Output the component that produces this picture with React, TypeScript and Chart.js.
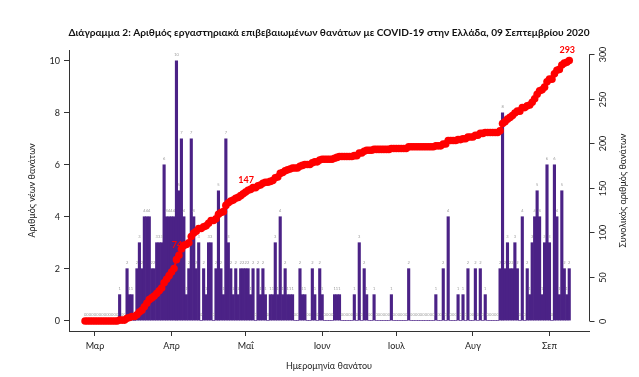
import React, { useEffect, useRef } from 'react';
import { Chart, registerables } from 'chart.js';

Chart.register(...registerables);

const chartTitle =
  'Διάγραμμα 2: Αριθμός εργαστηριακά επιβεβαιωμένων θανάτων με COVID-19 στην Ελλάδα, 09 Σεπτεμβρίου 2020';
const xAxisTitle = 'Ημερομηνία θανάτου';
const leftAxisTitle = 'Αριθμός νέων θανάτων';
const rightAxisTitle = 'Συνολικός αριθμός θανάτων';

// first entry is 26 Feb 2020; day numbers are counted from 1 Mar 2020
const firstDayOffset = -4;

// daily new deaths, 26 Feb .. 9 Sep 2020
const newDeaths = [
  0, 0, 0, 0,
  0, 0, 0, 0, 0, 0, 0, 0, 0, 0,
  1, 0, 0, 2, 1, 1, 0, 2, 3, 2, 4, 4, 4, 2, 2, 3, 3, 3, 6, 4, 4,
  4, 4, 10, 5, 7, 4, 1, 2, 7, 4, 2, 3, 0, 2, 1, 3, 3, 0, 2, 5, 2, 1, 7, 3, 2, 1, 2, 1, 2, 2,
  2, 2, 1, 2, 0, 2, 1, 2, 1, 0, 1, 1, 3, 1, 4, 1, 2, 1, 1, 1, 0, 0, 2, 1, 1, 0, 0, 2, 1, 0, 2,
  1, 0, 0, 0, 0, 1, 1, 1, 0, 0, 0, 0, 0, 1, 0, 3, 0, 2, 1, 0, 0, 1, 0, 0, 0, 0, 0, 0, 1, 0,
  0, 0, 0, 0, 0, 2, 0, 0, 0, 0, 0, 0, 0, 0, 0, 0, 1, 0, 0, 2, 0, 4, 0, 0, 0, 1, 0, 1, 0, 2, 0,
  0, 2, 0, 2, 0, 1, 0, 0, 0, 0, 0, 2, 8, 2, 3, 2, 2, 3, 2, 0, 4, 0, 2, 1, 3, 4, 5, 4, 1, 3, 6,
  3, 0, 6, 4, 1, 5, 2, 1, 2,
];

// cumulative deaths, 26 Feb .. 9 Sep 2020
const totalDeaths = [
  0, 0, 0, 0,
  0, 0, 0, 0, 0, 0, 0, 0, 0, 0,
  1, 1, 1, 3, 4, 5, 5, 7, 10, 12, 16, 20, 24, 26, 28, 31, 34, 37, 43, 47, 51,
  55, 59, 69, 74, 81, 85, 86, 88, 95, 99, 101, 104, 104, 106, 107, 110, 113, 113, 115, 120, 122, 123, 130, 133, 135, 136, 138, 139, 141, 143,
  145, 147, 148, 150, 150, 152, 153, 155, 156, 156, 157, 158, 161, 162, 166, 167, 169, 170, 171, 172, 172, 172, 174, 175, 176, 176, 176, 178, 179, 179, 181,
  182, 182, 182, 182, 182, 183, 184, 185, 185, 185, 185, 185, 185, 186, 186, 189, 189, 191, 192, 192, 192, 193, 193, 193, 193, 193, 193, 193, 194, 194,
  194, 194, 194, 194, 194, 196, 196, 196, 196, 196, 196, 196, 196, 196, 196, 196, 197, 197, 197, 199, 199, 203, 203, 203, 203, 204, 204, 205, 205, 207, 207,
  207, 209, 209, 211, 211, 212, 212, 212, 212, 212, 212, 214, 222, 224, 227, 229, 231, 234, 236, 236, 240, 240, 242, 243, 246, 250, 255, 259, 260, 263, 269,
  272, 272, 278, 282, 283, 288, 290, 291, 293,
];

const monthTickDays = [0, 31, 61, 92, 122, 153, 184];
const monthLabels = ['Μαρ', 'Απρ', 'Μαΐ', 'Ιουν', 'Ιουλ', 'Αυγ', 'Σεπ'];
const leftTicks = [0, 2, 4, 6, 8, 10];
const rightTicks = [0, 50, 100, 150, 200, 250, 300];
const markedDays = [34, 62, 192];
const markedTexts = ['74', '147', '293'];

const PURPLE = '#4b2286';
const RED = '#ff0000';
const AXIS = '#333333';
const TEXT = '#222222';
const FONT = 'Lato';

const decorPlugin = {
  id: 'decor',
  afterDatasetDraw(chart: any, args: any) {
    if (args.index !== 1) return;
    const ctx = chart.ctx as CanvasRenderingContext2D;
    const barMeta = chart.getDatasetMeta(1);
    const lineMeta = chart.getDatasetMeta(0);
    ctx.save();
    ctx.font = `4px ${FONT}`;
    ctx.fillStyle = '#9a9a9a';
    ctx.textAlign = 'center';
    ctx.textBaseline = 'middle';
    barMeta.data.forEach((el: any, i: number) => {
      ctx.fillText(String(newDeaths[i]), el.x, el.y - 6);
    });
    ctx.font = `bold 9px ${FONT}`;
    ctx.fillStyle = RED;
    markedDays.forEach((d, k) => {
      const p = lineMeta.data[d - firstDayOffset];
      if (p) ctx.fillText(markedTexts[k], p.x - 2, p.y - 10);
    });
    ctx.restore();
  },
  afterDraw(chart: any) {
    const ctx = chart.ctx as CanvasRenderingContext2D;
    const area = chart.chartArea;
    const cx = (area.left + area.right) / 2;
    const cy = (area.top + area.bottom) / 2;
    ctx.save();
    ctx.fillStyle = '#111';
    ctx.textAlign = 'center';
    ctx.textBaseline = 'middle';
    let size = 12;
    ctx.font = `bold ${size}px ${FONT}`;
    const w = ctx.measureText(chartTitle).width;
    size = Math.min(12, (size * 522) / w);
    ctx.font = `bold ${size}px ${FONT}`;
    ctx.fillText(chartTitle, cx, 33);
    ctx.fillStyle = TEXT;
    ctx.font = `9px ${FONT}`;
    ctx.fillText(xAxisTitle, cx, 366);
    ctx.save();
    ctx.translate(32, cy);
    ctx.rotate(-Math.PI / 2);
    ctx.fillText(leftAxisTitle, 0, 0);
    ctx.restore();
    ctx.save();
    ctx.translate(623, cy);
    ctx.rotate(-Math.PI / 2);
    ctx.fillText(rightAxisTitle, 0, 0);
    ctx.restore();
    const s = chart.scales.y1;
    const x = Math.round(area.right) + 0.5;
    ctx.strokeStyle = AXIS;
    ctx.lineWidth = 1;
    ctx.beginPath();
    ctx.moveTo(x, s.getPixelForValue(rightTicks[0]));
    ctx.lineTo(x, s.getPixelForValue(rightTicks[rightTicks.length - 1]));
    ctx.stroke();
    ctx.font = `9px ${FONT}`;
    rightTicks.forEach((v) => {
      const y = Math.round(s.getPixelForValue(v)) + 0.5;
      ctx.beginPath();
      ctx.moveTo(x, y);
      ctx.lineTo(x + 5, y);
      ctx.stroke();
      ctx.save();
      ctx.translate(x + 14, y);
      ctx.rotate(-Math.PI / 2);
      ctx.fillText(String(v), 0, 0);
      ctx.restore();
    });
    ctx.restore();
  },
};

export default function App() {
  const ref = useRef<HTMLCanvasElement | null>(null);
  useEffect(() => {
    document.body.style.margin = '0';
    const canvas = ref.current;
    if (!canvas) return;
    const days = newDeaths.map((_, i) => i + firstDayOffset);
    const chart = new Chart(canvas, {
      data: {
        datasets: [
          {
            type: 'line',
            label: 'Συνολικός αριθμός θανάτων',
            data: days.map((d, i) => ({ x: d, y: totalDeaths[i] })),
            yAxisID: 'y1',
            borderColor: RED,
            backgroundColor: RED,
            borderWidth: 2,
            pointRadius: 3.8,
            pointBorderWidth: 0,
            pointBackgroundColor: RED,
            order: 0,
          } as any,
          {
            type: 'bar',
            label: 'Αριθμός νέων θανάτων',
            data: days.map((d, i) => ({ x: d, y: newDeaths[i] })),
            yAxisID: 'y',
            backgroundColor: PURPLE,
            barPercentage: 1,
            categoryPercentage: 1,
            order: 1,
          } as any,
        ],
      },
      options: {
        responsive: false,
        animation: false,
        devicePixelRatio: 1,
        layout: { padding: { top: 50, right: 50, left: 0, bottom: 0 } },
        plugins: {
          legend: { display: false },
          tooltip: { enabled: false },
          title: { display: false },
        },
        scales: {
          x: {
            type: 'linear',
            position: 'bottom',
            offset: false,
            min: -10.5,
            max: 200,
            afterFit: (s: any) => {
              s.height = 46;
            },
            afterBuildTicks: (s: any) => {
              s.ticks = monthTickDays.map((v) => ({ value: v }));
            },
            ticks: {
              autoSkip: false,
              maxRotation: 0,
              padding: 5,
              color: TEXT,
              font: { family: FONT, size: 9 },
              callback: (v: any) => {
                const k = monthTickDays.indexOf(Number(v));
                return k >= 0 ? monthLabels[k] : '';
              },
            },
            grid: { offset: false, drawOnChartArea: false, drawTicks: true, tickLength: 5, color: AXIS },
            border: { display: true, color: AXIS, width: 1 },
          },
          y: {
            type: 'linear',
            position: 'left',
            min: -0.4,
            max: 10.42,
            afterFit: (s: any) => {
              s.width = 69;
            },
            afterBuildTicks: (s: any) => {
              s.ticks = leftTicks.map((v) => ({ value: v }));
            },
            ticks: {
              padding: 4,
              color: TEXT,
              font: { family: FONT, size: 9 },
            },
            grid: { drawOnChartArea: false, drawTicks: true, tickLength: 5, color: AXIS },
            border: { display: true, color: AXIS, width: 1 },
          },
          y1: {
            type: 'linear',
            position: 'right',
            display: false,
            min: -11.25,
            max: 304.8,
          },
        },
      } as any,
      plugins: [decorPlugin],
    });
    return () => chart.destroy();
  }, []);
  return <canvas ref={ref} width={639} height={377} style={{ display: 'block' }} />;
}
